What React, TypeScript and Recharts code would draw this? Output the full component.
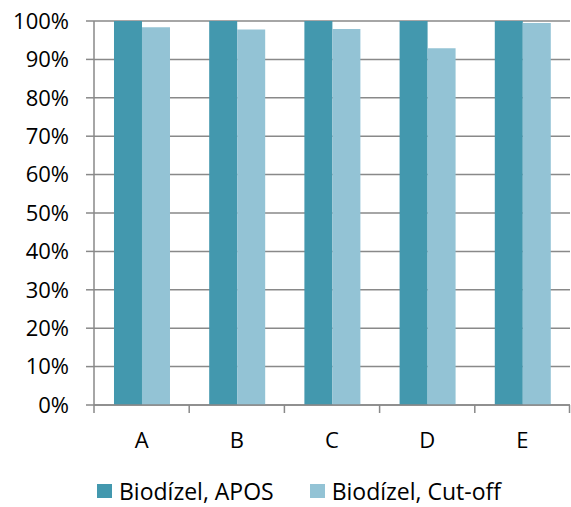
import React from "react";
import { BarChart, Bar, XAxis, YAxis, CartesianGrid, Legend } from "recharts";

const categories = ["A", "B", "C", "D", "E"];
const aposValues = [100, 100, 100, 100, 100];
const cutoffValues = [98.4, 97.8, 97.9, 92.9, 99.5];
const yTicks = [0, 10, 20, 30, 40, 50, 60, 70, 80, 90, 100];
const seriesNames = ["Biodízel, APOS", "Biodízel, Cut-off"];
const seriesColors = ["#4398AE", "#93C3D5"];

const data = categories.map((c, i) => ({
  name: c,
  apos: aposValues[i],
  cutoff: cutoffValues[i],
}));

const FONT = "'Open Sans', sans-serif";
const GRID = "#898989";
const BAND = (570 - 94) / 5;

const XTick = (props: any) => {
  const { x, y, payload, index } = props;
  const left = x - BAND / 2;
  const right = x + BAND / 2;
  return (
    <g>
      <line x1={left} x2={left} y1={y - 8} y2={y} stroke={GRID} strokeWidth={1.5} />
      {index === categories.length - 1 && (
        <line x1={right - 0.5} x2={right - 0.5} y1={y - 8} y2={y} stroke={GRID} strokeWidth={1.5} />
      )}
      <text x={x} y={y + 35} textAnchor="middle" fill="#000" fontSize={22} fontFamily={FONT}>
        {payload.value}
      </text>
    </g>
  );
};

const LegendContent = () => (
  <div
    style={{
      display: "flex",
      alignItems: "center",
      paddingTop: 10,
      paddingLeft: 97,
      fontFamily: FONT,
      fontSize: 23,
      lineHeight: "normal",
      color: "#000",
    }}
  >
    {seriesNames.map((n, i) => (
      <div key={n} style={{ display: "flex", alignItems: "center", marginRight: i === 0 ? 36 : 0 }}>
        <div style={{ width: 15, height: 14, background: seriesColors[i], marginRight: 7 }} />
        <span style={{ whiteSpace: "nowrap" }}>{n}</span>
      </div>
    ))}
  </div>
);

export default function App() {
  return (
    <div style={{ position: "absolute", left: 0, top: 0, width: 571, height: 507, background: "#fff" }}>
      <BarChart
        width={571}
        height={507}
        data={data}
        margin={{ top: 21, right: 1, left: 0, bottom: 0 }}
        barCategoryGap="21%"
        barGap={0}
      >
        <CartesianGrid vertical={false} stroke={GRID} strokeWidth={1.5} />
        <XAxis
          dataKey="name"
          tickLine={false}
          axisLine={{ stroke: GRID, strokeWidth: 1.5 }}
          tick={<XTick />}
          height={60}
          interval={0}
        />
        <YAxis
          domain={[0, 100]}
          ticks={yTicks}
          tickFormatter={(v: number) => `${v}%`}
          width={94}
          tickSize={8}
          tickMargin={17}
          axisLine={{ stroke: GRID, strokeWidth: 1.5 }}
          tickLine={{ stroke: GRID, strokeWidth: 1.5 }}
          tick={{ fill: "#000", fontSize: 22, fontFamily: FONT }}
          interval={0}
        />
        <Legend verticalAlign="bottom" height={42} content={<LegendContent />} wrapperStyle={{ left: 0, width: 571 }} />
        <Bar dataKey="apos" name={seriesNames[0]} fill={seriesColors[0]} isAnimationActive={false} />
        <Bar dataKey="cutoff" name={seriesNames[1]} fill={seriesColors[1]} isAnimationActive={false} />
      </BarChart>
    </div>
  );
}
